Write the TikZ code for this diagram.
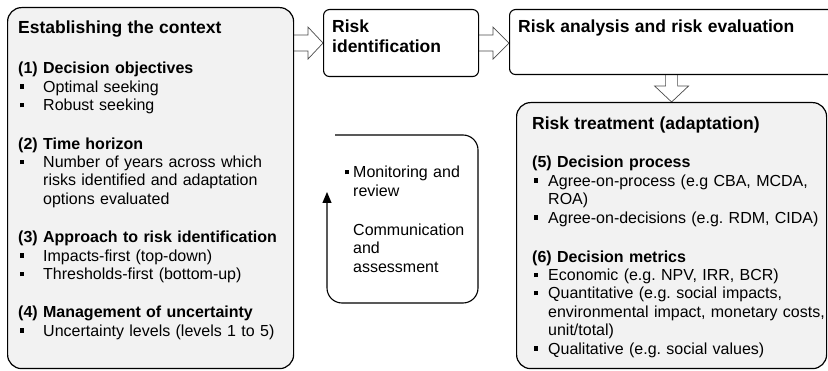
\documentclass[tikz,border=0pt]{standalone}
\usepackage{fontspec}
\setmainfont{Liberation Sans}
\usetikzlibrary{calc,arrows.meta,backgrounds}
\definecolor{panelgray}{RGB}{242,242,242}
\newcommand{\bul}[1][25pt]{\makebox[#1][l]{\hspace{1.5pt}\rule[3.5pt]{4.5pt}{4.5pt}}}
\newcommand{\ind}[1][25pt]{\hspace*{#1}}
\newcommand{\hd}[1]{{\fontsize{17.5}{20}\selectfont\bfseries #1}}
\frenchspacing
\tikzset{
  panel/.style={draw,rounded corners=14pt,line width=1.2pt,fill=panelgray,anchor=north west,inner sep=0pt},
  stepbox/.style={draw,rounded corners=6pt,line width=1.1pt,fill=white,anchor=north west,inner sep=0pt},
  blockarrow/.style={draw=black!70,fill=white,line width=0.7pt,line join=miter},
  body/.style={anchor=base west,inner sep=0pt,align=left,font=\fontsize{16}{18.4}\selectfont},
  loopline/.style={draw,line width=1.1pt,rounded corners=15pt,-{Triangle[length=11pt,width=9pt,sharp]}}
}
\begin{document}
\begin{tikzpicture}[x=1pt,y=-1pt]
\useasboundingbox (0,0) rectangle (828,371);
% boxes
\node[panel,minimum width=286pt,minimum height=361pt] (context) at (7,7) {};
\node[stepbox,minimum width=155pt,minimum height=67pt] (ident) at (323,9) {};
\node[stepbox,minimum width=331pt,minimum height=65pt] (analysis) at (509,9) {};
\node[panel,minimum width=310pt,minimum height=266pt] (treat) at (516,102) {};
% block arrows
\coordinate (a1) at (context.east |- ident.west);
\coordinate (a2) at (analysis.west |- ident.east);
\coordinate (a3) at (treat.north |- analysis.south);
\begin{pgfonlayer}{background}
\draw[blockarrow] ($(a1)+(0,-8)$) -- ($(ident.west)+(-15,-8)$) -- ($(ident.west)+(-15,-16)$) -- (ident.west) -- ($(ident.west)+(-15,16)$) -- ($(ident.west)+(-15,8)$) -- ($(a1)+(0,8)$);
\draw[blockarrow] ($(ident.east)+(0,-8)$) -- ($(a2)+(-16,-8)$) -- ($(a2)+(-16,-16)$) -- (a2) -- ($(a2)+(-16,16)$) -- ($(a2)+(-16,8)$) -- ($(ident.east)+(0,8)$);
\draw[blockarrow] ($(a3)+(-6,0)$) -- ($(treat.north)+(-6,-16)$) -- ($(treat.north)+(-17,-16)$) -- (treat.north) -- ($(treat.north)+(17,-16)$) -- ($(treat.north)+(6,-16)$) -- ($(a3)+(6,0)$);
\end{pgfonlayer}
% monitoring loop
\draw[loopline] (335,135) -- (478,135) -- (478,303) -- (327,303) -- (327,192);
% texts
\node[body,text width=275pt] (contexttext) at (18,34) {\hd{Establishing the context}\\[21.6pt]
\textbf{(1) Decision objectives}\\
\bul Optimal seeking\\
\bul Robust seeking\\[20pt]
\textbf{(2) Time horizon}\\
\bul Number of years across which\\
\ind risks identified and adaptation\\
\ind options evaluated\\[20pt]
\textbf{(3) Approach to risk identification}\\
\bul Impacts-first (top-down)\\
\bul Thresholds-first (bottom-up)\\[20pt]
\textbf{(4) Management of uncertainty}\\
\bul Uncertainty levels (levels 1 to 5)};
\node[body,text width=150pt] (identtext) at (332,33) {\hd{Risk}\\[1.6pt]\hd{identification}};
\node[body,text width=300pt] (analysistext) at (518,33) {\hd{Risk analysis and risk evaluation}};
\node[body,text width=135pt] (monitortext) at (343,178) {\bul[10pt]Monitoring and\\
\ind[10pt]review\\[20.6pt]
\ind[10pt]Communication\\
\ind[10pt]and\\
\ind[10pt]assessment};
\node[body,text width=300pt] (treattext) at (532,130) {\hd{Risk treatment (adaptation)}\\[19.6pt]
\textbf{(5) Decision process}\\
\bul[16pt]Agree-on-process (e.g CBA, MCDA,\\
\ind[16pt]ROA)\\
\bul[16pt]Agree-on-decisions (e.g. RDM, CIDA)\\[20.6pt]
\textbf{(6) Decision metrics}\\
\bul[16pt]Economic (e.g. NPV, IRR, BCR)\\
\bul[16pt]Quantitative (e.g. social impacts,\\
\ind[16pt]environmental impact, monetary costs,\\
\ind[16pt]unit/total)\\
\bul[16pt]Qualitative (e.g. social values)};
\end{tikzpicture}
\end{document}
